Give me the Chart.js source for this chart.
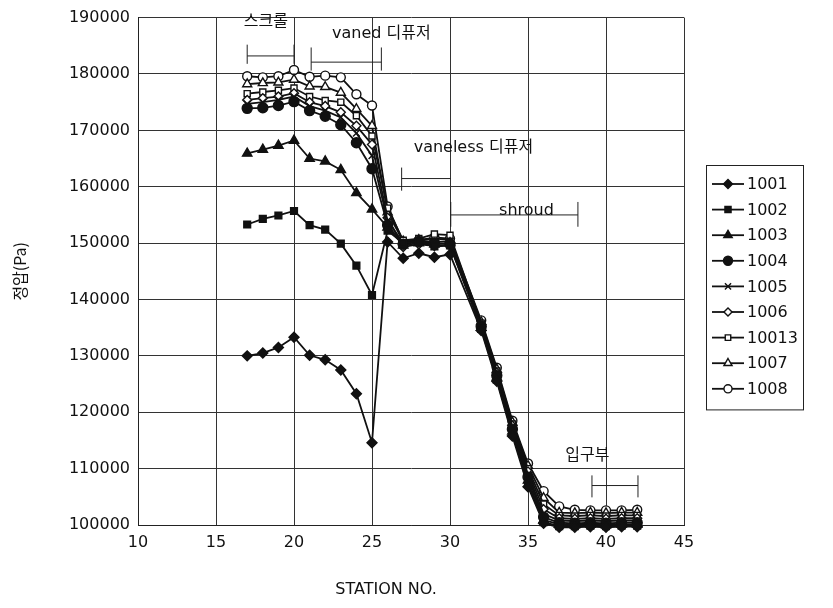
<!DOCTYPE html>
<html>
<head>
<meta charset="utf-8">
<script src="https://cdn.jsdelivr.net/npm/chart.js@4/dist/chart.umd.min.js"></script>
<style>
  html, body { margin: 0; padding: 0; background: #ffffff; }
  #wrap { width: 833px; height: 608px; position: relative; }
</style>
</head>
<body>
<div id="wrap"><canvas id="c" width="833" height="608"></canvas></div>
<script>
// ---- data ----
const stations = [17,18,19,20,21,22,23,24,25,26,27,28,29,30,32,33,34,35,36,37,38,39,40,41,42];
const seriesNames = ['1001','1002','1003','1004','1005','1006','10013','1007','1008'];
const s1001  = [130000,130500,131500,133300,130100,129300,127500,123300,114600,150200,147300,148200,147500,148000,134500,125500,115800,106800,100300,99600,99600,99700,99600,99700,99700];
const s1002  = [153300,154300,154900,155700,153200,152400,149900,146000,140800,152200,150000,150300,149400,149600,134800,125800,116200,107300,100500,99800,99800,99900,99800,99900,99900];
const s1003  = [165900,166600,167300,168200,165000,164500,163000,158900,156000,152800,149600,150000,149800,150000,135000,126200,116600,107900,100900,100100,100000,100100,100000,100100,100100];
const s1004  = [173900,174000,174400,175100,173500,172500,171000,167800,163200,153200,149800,150300,150000,149800,135200,126500,117000,108500,101400,100400,100300,100400,100300,100400,100400];
const s1005  = [174700,175000,175400,176000,174300,173500,172300,169500,165500,154000,150000,150500,150200,150300,135400,126800,117300,109000,102000,100800,100700,100800,100700,100800,100800];
const s1006  = [175400,175700,176000,176600,175000,174300,173200,170800,167500,154500,149300,149800,149500,149600,135600,127000,117600,109500,102800,101200,101100,101200,101100,101200,101200];
const s10013 = [176500,176800,177100,177500,176000,175300,175000,172600,169000,156200,150500,150800,151600,151400,135800,127300,117900,110000,103700,101700,101600,101700,101600,101700,101700];
const s1007  = [178200,178400,178500,179000,177800,177700,176700,173800,170800,155500,150300,150600,150800,150600,136000,127600,118200,110500,104800,102200,102100,102200,102100,102200,102200];
const s1008  = [179600,179400,179600,180700,179500,179700,179400,176400,174400,156500,150200,150500,151000,150800,136300,127900,118500,110900,106000,103300,102700,102600,102600,102600,102700];
const seriesValues = [s1001, s1002, s1003, s1004, s1005, s1006, s10013, s1007, s1008];

const xTicks = [10,15,20,25,30,35,40,45];
const yTicks = [100000,110000,120000,130000,140000,150000,160000,170000,180000,190000];
const xTitle = 'STATION NO.';
const yTitle = '정압(Pa)';

// annotations: label with its text position (data units), and brackets
const annoLabels = ['스크롤', 'vaned 디퓨저', 'vaneless 디퓨저', 'shroud', '입구부'];
const annoTextX  = [18.2, 25.6, 31.5, 34.9, 38.8];
const annoTextY  = [189300, 187100, 166900, 155700, 112300];
const brX1 = [17, 21.1, 26.9, 30.05, 39.1];
const brX2 = [20, 25.6, 30.05, 38.2, 42.05];
const brY  = [183200, 182100, 161450, 155000, 107000];
const brTop = [185200, 184700, 163400, 157300, 108800];
const brBot = [181800, 180600, 159300, 152900, 104900];
const brLeft  = [true, true, true, true, true];
const brRight = [true, true, false, true, true];

// ---- styles ----
const pointStyles = ['rectRot','rect','triangle','circle','crossRot','rectRot','rect','triangle','circle'];
const filled      = [true, true, true, true, true, false, false, false, false];
const radii       = [5, 4.8, 5.4, 5, 4.8, 4.5, 4.3, 5.2, 4.5];
const INK = '#111111';

const datasets = seriesNames.map((name, i) => ({
  label: name,
  data: stations.map((s, j) => ({ x: s, y: seriesValues[i][j] })),
  showLine: true,
  borderColor: INK,
  borderWidth: 1.8,
  pointStyle: pointStyles[i],
  pointRadius: radii[i],
  pointHoverRadius: radii[i],
  pointBorderWidth: 1.4,
  pointBorderColor: INK,
  pointBackgroundColor: filled[i] ? INK : '#ffffff',
  backgroundColor: filled[i] ? INK : '#ffffff',
  fill: false,
  tension: 0,
  clip: 10
}));

const FONT = "'DejaVu Sans', 'Noto Sans CJK KR', sans-serif";

const annotationPlugin = {
  id: 'annos',
  afterDraw(chart) {
    const ctx = chart.ctx;
    const xs = chart.scales.x, ys = chart.scales.y;
    ctx.save();
    ctx.strokeStyle = '#222';
    ctx.lineWidth = 1;
    for (let i = 0; i < brX1.length; i++) {
      const x1 = xs.getPixelForValue(brX1[i]);
      const x2 = xs.getPixelForValue(brX2[i]);
      const y = ys.getPixelForValue(brY[i]);
      const yt = ys.getPixelForValue(brTop[i]);
      const yb = ys.getPixelForValue(brBot[i]);
      ctx.beginPath();
      ctx.moveTo(x1, y); ctx.lineTo(x2, y);
      if (brLeft[i]) { ctx.moveTo(x1, yt); ctx.lineTo(x1, yb); }
      if (brRight[i]) { ctx.moveTo(x2, yt); ctx.lineTo(x2, yb); }
      ctx.stroke();
    }
    ctx.fillStyle = '#111';
    ctx.font = "16px " + FONT;
    ctx.textAlign = 'center';
    ctx.textBaseline = 'middle';
    for (let i = 0; i < annoLabels.length; i++) {
      ctx.fillText(annoLabels[i], xs.getPixelForValue(annoTextX[i]), ys.getPixelForValue(annoTextY[i]));
    }
    // x axis title, placed as in the original (not centred on the axis)
    ctx.font = "16px " + FONT;
    ctx.fillText(xTitle, xs.getPixelForValue(25.9), 590);
    ctx.restore();
  }
};

const legendPlugin = {
  id: 'customLegend',
  afterDraw(chart) {
    const ctx = chart.ctx;
    const boxL = 706, boxT = 165, boxW = 97, rowH = 25.6;
    const n = seriesNames.length;
    const boxH = rowH * n + 14;
    ctx.save();
    ctx.strokeStyle = '#222';
    ctx.lineWidth = 1;
    ctx.strokeRect(boxL + 0.5, boxT + 0.5, boxW, boxH);
    ctx.font = "16px " + FONT;
    ctx.textBaseline = 'middle';
    ctx.textAlign = 'left';
    for (let i = 0; i < n; i++) {
      const y = boxT + 19 + i * rowH;
      ctx.strokeStyle = INK;
      ctx.lineWidth = 1.8;
      ctx.beginPath();
      ctx.moveTo(boxL + 6, y); ctx.lineTo(boxL + 38, y);
      ctx.stroke();
      ctx.fillStyle = filled[i] ? INK : '#ffffff';
      ctx.strokeStyle = INK;
      ctx.lineWidth = 1.4;
      Chart.helpers.drawPoint(ctx, { pointStyle: pointStyles[i], radius: radii[i] * 0.9, rotation: 0, borderWidth: 1.4 }, boxL + 22, y);
      ctx.fillStyle = '#111';
      ctx.fillText(seriesNames[i], boxL + 41, y + 1);
    }
    ctx.restore();
  }
};

new Chart(document.getElementById('c'), {
  type: 'scatter',
  data: { datasets },
  options: {
    responsive: false,
    animation: false,
    devicePixelRatio: 1,
    layout: { padding: { left: 0, right: 149, top: 15, bottom: 0 } },
    plugins: { legend: { display: false }, tooltip: { enabled: false } },
    scales: {
      x: {
        type: 'linear', min: 10, max: 45,
        afterBuildTicks: (s) => { s.ticks = xTicks.map(v => ({ value: v })); },
        afterFit: (s) => { s.height = 83; },
        ticks: { color: '#111', font: { family: FONT, size: 16 }, padding: 8 },
        grid: { color: '#333', lineWidth: 1, drawTicks: false },
        border: { color: '#222', width: 1 },
        title: { display: false }
      },
      y: {
        type: 'linear', min: 100000, max: 190000,
        afterBuildTicks: (s) => { s.ticks = yTicks.map(v => ({ value: v })); },
        afterFit: (s) => { s.width = 138; },
        ticks: { color: '#111', font: { family: FONT, size: 16 }, padding: 8, callback: (v) => String(v) },
        grid: { color: '#333', lineWidth: 1, drawTicks: false },
        border: { color: '#222', width: 1 },
        title: { display: true, text: yTitle, color: '#111', font: { family: "'Noto Sans CJK KR', 'DejaVu Sans', sans-serif", size: 16 }, padding: { top: 10, bottom: 0 } }
      }
    }
  },
  plugins: [annotationPlugin, legendPlugin]
});
</script>
</body>
</html>
